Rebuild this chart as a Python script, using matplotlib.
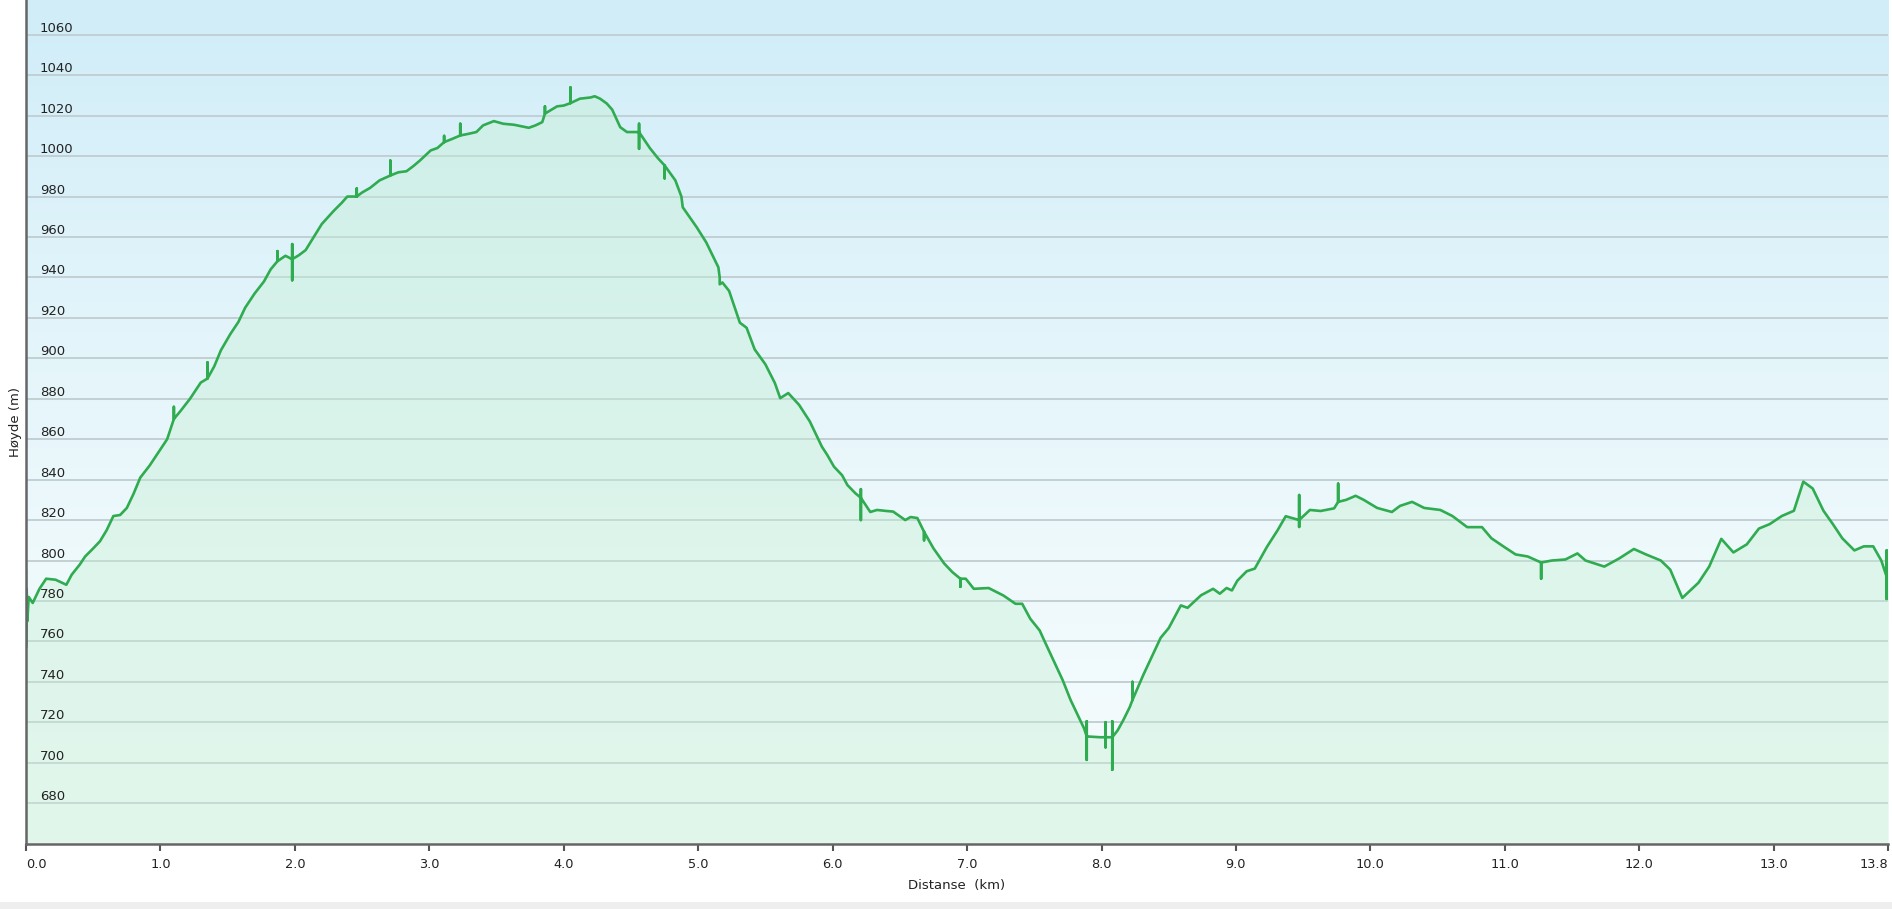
import numpy as np
import matplotlib
matplotlib.use("Agg")
import matplotlib.pyplot as plt
from matplotlib.colors import LinearSegmentedColormap
from matplotlib.patches import Rectangle

# elevation profile (km, m); repeated km = GPS spikes
dist_km = [
    0.0, 0.0, 0.005, 0.01, 0.02, 0.05, 0.1, 0.15, 0.22, 0.3, 0.34, 0.4, 0.44, 0.5,
    0.55, 0.6, 0.65, 0.7, 0.75, 0.8, 0.85, 0.92, 1.0, 1.05, 1.08, 1.1, 1.1, 1.1,
    1.15, 1.22, 1.3, 1.35, 1.35, 1.35, 1.4, 1.45, 1.52, 1.58, 1.63, 1.7, 1.77,
    1.82, 1.87, 1.87, 1.87, 1.93, 1.98, 1.98, 1.98, 1.98, 2.03, 2.08, 2.14, 2.2,
    2.29, 2.35, 2.39, 2.46, 2.46, 2.46, 2.5, 2.56, 2.63, 2.71, 2.71, 2.71, 2.77,
    2.83, 2.88, 2.93, 3.01, 3.06, 3.11, 3.11, 3.11, 3.17, 3.23, 3.23, 3.23, 3.29,
    3.35, 3.4, 3.48, 3.55, 3.63, 3.74, 3.79, 3.84, 3.86, 3.86, 3.86, 3.9, 3.95,
    4.0, 4.05, 4.05, 4.05, 4.12, 4.2, 4.23, 4.27, 4.32, 4.36, 4.42, 4.47, 4.56,
    4.56, 4.56, 4.56, 4.64, 4.7, 4.75, 4.75, 4.75, 4.83, 4.875, 4.885, 4.99, 5.06,
    5.15, 5.16, 5.16, 5.18, 5.23, 5.31, 5.36, 5.42, 5.5, 5.57, 5.61, 5.67, 5.75,
    5.83, 5.92, 5.96, 6.01, 6.07, 6.11, 6.17, 6.21, 6.21, 6.21, 6.21, 6.28, 6.33,
    6.4, 6.45, 6.54, 6.58, 6.63, 6.68, 6.68, 6.68, 6.75, 6.83, 6.89, 6.95, 6.95,
    6.95, 6.99, 7.05, 7.16, 7.27, 7.36, 7.41, 7.47, 7.54, 7.57, 7.64, 7.71, 7.77,
    7.87, 7.89, 7.89, 7.89, 7.89, 7.99, 8.03, 8.03, 8.03, 8.03, 8.08, 8.08, 8.08,
    8.08, 8.12, 8.16, 8.21, 8.23, 8.23, 8.23, 8.31, 8.39, 8.44, 8.5, 8.59, 8.64,
    8.74, 8.83, 8.88, 8.93, 8.97, 9.01, 9.08, 9.14, 9.23, 9.31, 9.37, 9.47, 9.47,
    9.47, 9.47, 9.55, 9.63, 9.73, 9.76, 9.76, 9.76, 9.82, 9.89, 9.95, 10.05,
    10.16, 10.22, 10.31, 10.4, 10.52, 10.61, 10.72, 10.83, 10.9, 11.0, 11.08,
    11.17, 11.27, 11.27, 11.27, 11.35, 11.45, 11.54, 11.6, 11.74, 11.85, 11.96,
    12.05, 12.16, 12.23, 12.32, 12.44, 12.52, 12.61, 12.7, 12.8, 12.89, 12.97,
    13.06, 13.15, 13.22, 13.29, 13.37, 13.44, 13.51, 13.6, 13.67, 13.74, 13.8,
    13.84, 13.84, 13.84, 13.84, 13.85,
]
elev_m = [
    795, 757, 786, 770, 782, 779, 786, 791, 790.5, 788, 793, 798, 802, 806,
    809.5, 815, 822, 822.5, 826, 833, 841, 847, 855, 860, 866, 870, 876, 870,
    874, 880, 888, 890, 898, 890, 896, 904, 912, 918, 925, 932, 938,
    944, 948, 953, 948, 950.7, 949, 956.5, 938.6, 949, 951, 953.5, 960, 966.4,
    973, 977, 980, 980, 984, 980, 982, 984.3, 988, 990.4, 997.8, 990.4, 992,
    992.5, 995, 997.8, 1002.8, 1004, 1006.9, 1010, 1006.9, 1008.5, 1010.2, 1016, 1010.2, 1011,
    1011.9, 1015.2, 1017.3, 1016, 1015.5, 1014, 1015.2, 1016.8, 1021, 1024.6, 1021, 1022.6, 1024.6,
    1025, 1026.2, 1034, 1026.2, 1028.4, 1029, 1029.6, 1028.4, 1026, 1023, 1014.3, 1011.9, 1011.9,
    1016, 1003.6, 1011.9, 1004, 999, 995.4, 989, 995.4, 988, 980, 974.7, 964.7, 957.3,
    945, 940, 936.6, 937.5, 933.3, 917.6, 915.1, 904.4, 897, 887.8, 880.3, 882.8, 877,
    868.8, 856.3, 852.2, 846.4, 842.2, 837.3, 833.2, 831, 835.3, 820, 831, 824, 825,
    824.5, 824.2, 820, 821.5, 821, 814.2, 810, 814.2, 806, 798.5, 794.3, 791, 787,
    791, 791, 786, 786.4, 782.7, 778.6, 778.6, 771.2, 765.4, 761, 751, 741, 731,
    717, 713, 720.5, 701.4, 713, 712.6, 712.6, 720, 707.6, 712.6, 712.6, 720.5, 696.5,
    712.6, 716, 720.8, 727.5, 731, 740, 731, 743.3, 754.7, 761.8, 766.6, 777.8, 776.6,
    782.8, 786, 783.6, 786.4, 785.2, 790, 794.7, 796, 806.7, 815, 821.9, 820, 832.4,
    816.6, 820, 825, 824.5, 825.8, 829, 838, 829, 830, 832, 830, 826,
    824, 827, 829, 826, 825, 822, 816.5, 816.5, 811, 806.5, 803,
    802, 799, 791, 799, 800, 800.5, 803.5, 800, 797, 801, 805.7,
    803, 800, 795.5, 781.5, 789, 797, 810.7, 804, 808, 815.8, 818,
    822, 824.6, 839, 835.6, 824.6, 818, 811, 805, 807, 807, 800,
    792, 805, 781, 792, 795,
]

ytick_m = list(range(680, 1061, 20))
xtick_km = [0, 1, 2, 3, 4, 5, 6, 7, 8, 9, 10, 11, 12, 13, 13.85]
xtick_labels = ["0.0", "1.0", "2.0", "3.0", "4.0", "5.0", "6.0", "7.0", "8.0",
                "9.0", "10.0", "11.0", "12.0", "13.0", "13.8"]

plt.rcParams['font.family'] = ['DejaVu Sans']

fig = plt.figure(figsize=(18.92, 9.09), dpi=100)
fig.patch.set_facecolor("white")
# light grey strip at the very bottom of the screenshot
fig.patches.append(Rectangle((0, 0), 1, 7 / 909, transform=fig.transFigure,
                             facecolor="#eeeeee", edgecolor="none"))

ax = fig.add_axes([26 / 1892, 65 / 909, 1862 / 1892, 844 / 909])
ymin, ymax = 659.8, 1077.2
xmin, xmax = 0, 13.85
ax.set_xlim(xmin, xmax)
ax.set_ylim(ymin, ymax)

# sky gradient background
bg = LinearSegmentedColormap.from_list(
    "sky", [(0.0, "#f6fcfd"), (0.35, "#eef9fc"), (0.7, "#dff3fa"), (1.0, "#d0edf8")])
grad = np.linspace(0, 1, 256).reshape(-1, 1)
ax.imshow(grad, cmap=bg, aspect="auto", origin="lower",
          extent=(xmin, xmax, ymin, ymax), zorder=0)

for y in ytick_m:
    ax.axhline(y, color="#bfcdd1", lw=1.3, zorder=1)

ax.fill_between(dist_km, elev_m, ymin, color="#c4efd2", alpha=0.4, lw=0, zorder=1.2)
ax.plot(dist_km, elev_m, color="#2fab50", lw=1.9, zorder=3)

# y labels sit inside the plot just above each grid line
ax.set_yticks(ytick_m)
ax.set_yticklabels([str(v) for v in ytick_m])
ax.tick_params(axis="y", length=0, pad=-10, labelsize=9.5, labelcolor="#222222")
for lab in ax.get_yticklabels():
    lab.set_horizontalalignment("left")
    lab.set_verticalalignment("bottom")
ax.yaxis.set_zorder(4)
ax.xaxis.set_zorder(4)

ax.set_xticks(xtick_km)
ax.set_xticklabels(xtick_labels)
ax.tick_params(axis="x", direction="out", length=5, width=1.5, color="#555555",
               labelsize=9.3, labelcolor="#222222", pad=5)
xl = ax.get_xticklabels()
xl[0].set_horizontalalignment("left")
xl[-1].set_horizontalalignment("right")

for s in ["top", "right"]:
    ax.spines[s].set_visible(False)
for s in ["left", "bottom"]:
    ax.spines[s].set_color("#666666")
    ax.spines[s].set_linewidth(1.8)
    ax.spines[s].set_zorder(5)

ax.set_xlabel("Distanse  (km)", fontsize=9.5, color="#222222", labelpad=6)
fig.text(15 / 1892, 1 - 422 / 909, "Høyde (m)", rotation=90, fontsize=9.5,
         color="#222222", ha="center", va="center")

fig.savefig("out.png", dpi=100)
